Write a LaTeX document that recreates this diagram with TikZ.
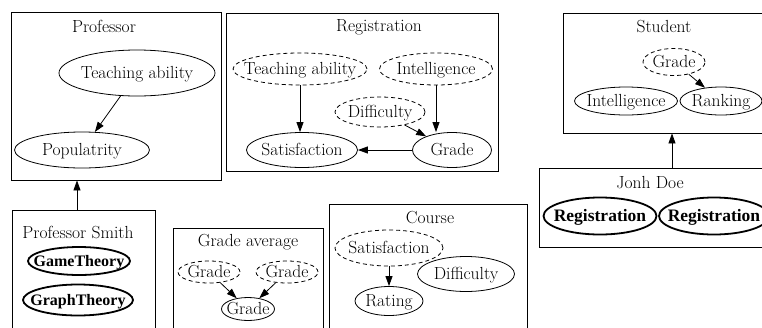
\documentclass[tikz,border=0pt]{standalone}
\usepackage{fontspec}
\newfontfamily\boldface{Liberation Serif}
\usetikzlibrary{shapes.geometric,arrows.meta}
\newcommand{\lbltxt}[1]{\makebox[0pt]{\raisebox{-0.33em}[0pt][0pt]{#1}}}
\begin{document}
\begin{tikzpicture}[x=1pt,y=-1pt,
  txt/.style={font=\fontsize{17.5}{20}\selectfont, inner sep=0pt},
  el/.style={ellipse,draw,line width=0.8pt,inner sep=0pt,font=\fontsize{17.5}{20}\selectfont},
  dl/.style={el,dash pattern=on 4pt off 3pt},
  bl/.style={el,line width=1.8pt,font=\boldface\bfseries\fontsize{16}{19}\selectfont},
  blr/.style={bl,font=\boldface\bfseries\fontsize{17.5}{20}\selectfont},
  box/.style={draw,line width=0.8pt,rectangle,inner sep=0pt},
  arr/.style={-{Triangle[length=10pt,width=7pt]},line width=0.8pt}]
\useasboundingbox (0,0) rectangle (762,327);
\clip (0,0) rectangle (762,327);
% boxes
\node[box,minimum width=210pt,minimum height=168pt] (prof) at (116,96) {};
\node[box,minimum width=272pt,minimum height=158pt] (reg) at (362,92) {};
\node[box,minimum width=227pt,minimum height=120pt] (student) at (676.5,73) {};
\node[box,minimum width=251pt,minimum height=79pt] (jdoe) at (664.5,207.5) {};
\node[box,minimum width=143pt,minimum height=135pt] (psmith) at (83.5,277.5) {};
\node[box,minimum width=150pt,minimum height=117pt] (gavg) at (248,286.5) {};
\node[box,minimum width=198pt,minimum height=141pt] (course) at (428,274.5) {};
% titles
\node[txt] (tprof) at (104,26) {Professor};
\node[txt] (treg) at (379,27) {Registration};
\node[txt] (tstud) at (664,27) {Student};
\node[txt] (tjd) at (650,183) {Jonh Doe};
\node[txt] (tps) at (78,232) {Professor Smith};
\node[txt] (tga) at (248,242) {Grade average};
\node[txt] (tco) at (430,218) {Course};
% Professor
\node[el,minimum width=156pt,minimum height=46pt] (pta) at (137,73) {\lbltxt{Teaching ability}};
\node[el,minimum width=135pt,minimum height=36pt] (ppop) at (82,150) {\lbltxt{Populatrity}};
% Registration
\node[dl,minimum width=134pt,minimum height=32pt] (rta) at (300,69) {\lbltxt{Teaching ability}};
\node[dl,minimum width=113pt,minimum height=32pt] (rint) at (436,69) {\lbltxt{Intelligence}};
\node[dl,minimum width=90pt,minimum height=30pt] (rdif) at (380,112) {\lbltxt{Difficulty}};
\node[el,minimum width=111pt,minimum height=35pt] (rsat) at (302,150) {\lbltxt{Satisfaction}};
\node[el,minimum width=79pt,minimum height=35pt] (rgr) at (452,150) {\lbltxt{Grade}};
% Student
\node[dl,minimum width=62pt,minimum height=27pt] (sgr) at (674,62) {\lbltxt{Grade}};
\node[el,minimum width=103pt,minimum height=28pt] (sint) at (626,101) {\lbltxt{Intelligence}};
\node[el,minimum width=82pt,minimum height=28pt] (srank) at (721,101) {\lbltxt{Ranking}};
% Jonh Doe
\node[blr,minimum width=113pt,minimum height=37pt] (jr1) at (600,216) {\lbltxt{Registration}};
\node[blr,minimum width=110pt,minimum height=37pt] (jr2) at (714,216) {\lbltxt{Registration}};
% Professor Smith
\node[bl,minimum width=102pt,minimum height=28pt] (pgame) at (79,261) {\lbltxt{GameTheory}};
\node[bl,minimum width=110pt,minimum height=31pt] (pgraph) at (78,300) {\lbltxt{GraphTheory}};
% Grade average
\node[dl,minimum width=62pt,minimum height=22pt] (gl) at (209,272) {\lbltxt{Grade}};
\node[dl,minimum width=62pt,minimum height=22pt] (gr) at (287,272) {\lbltxt{Grade}};
\node[el,minimum width=53pt,minimum height=23pt] (gs) at (248,309) {\lbltxt{Grade}};
% Course
\node[dl,minimum width=108pt,minimum height=36pt] (csat) at (389,248) {\lbltxt{Satisfaction}};
\node[el,minimum width=97pt,minimum height=35pt] (cdif) at (466,274) {\lbltxt{Difficulty}};
\node[el,minimum width=68pt,minimum height=29pt] (crat) at (389,301) {\lbltxt{Rating}};
% connectors
\coordinate (ax) at (77,0);
\coordinate (bx) at (672,0);
\draw[arr] (psmith.north -| ax) -- (prof.south -| ax);
\draw[arr] (jdoe.north -| bx) -- (student.south -| bx);
\draw[arr] (pta) -- (ppop);
\draw[arr] (rta.south) -- (rta.south |- rsat.north);
\draw[arr] (rint.south) -- (rint.south |- rgr.north);
\draw[arr] (rdif) -- (rgr);
\draw[arr] (rgr) -- (rsat);
\draw[arr] (sgr) -- (srank);
\draw[arr] (gl) -- (gs);
\draw[arr] (gr) -- (gs);
\draw[arr] (csat) -- (crat);
\end{tikzpicture}
\end{document}
